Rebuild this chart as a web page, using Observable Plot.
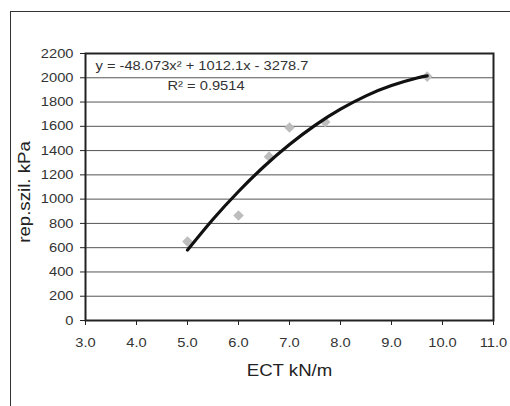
<!DOCTYPE html>
<html><head><meta charset="utf-8">
<script src="https://cdn.jsdelivr.net/npm/d3@7"></script>
<script src="https://cdn.jsdelivr.net/npm/@observablehq/plot@0.6"></script>
<style>
html,body{margin:0;padding:0;background:#fff;overflow:hidden;width:510px;height:406px;}
#outer{position:absolute;left:10px;top:11px;width:600px;height:600px;border-top:1px solid #333;border-left:1px solid #333;}
#chart{position:absolute;left:0;top:0;}
</style></head><body>
<div id="outer"></div><div id="chart"></div>
<script>
// measured points (ECT kN/m, rep.szil. kPa)
const ectValues = [5.0, 6.0, 6.6, 7.0, 7.7, 9.7];
const pressureValues = [650, 865, 1350, 1590, 1635, 2010];
// polynomial trendline
const trendX = [5.0, 5.5, 6.0, 6.5, 7.0, 7.5, 8.0, 8.5, 9.0, 9.5, 9.7];
const trendY = [580, 834, 1063, 1269, 1450, 1608, 1741, 1851, 1936, 1998, 2015];
const xTicks = [3, 4, 5, 6, 7, 8, 9, 10, 11];
const yTicks = [0, 200, 400, 600, 800, 1000, 1200, 1400, 1600, 1800, 2000, 2200];
const gridValues = [200, 400, 600, 800, 1000, 1200, 1400, 1600, 1800, 2000];
const equationText = "y = -48.073x² + 1012.1x - 3278.7";
const r2Text = "R² = 0.9514";
const xLabel = "ECT kN/m";
const yLabel = "rep.szil. kPa";

const points = ectValues.map((x, i) => ({x, y: pressureValues[i]}));
const trend = trendX.map((x, i) => ({x, y: trendY[i]}));

const chart = Plot.plot({
  width: 510,
  height: 406,
  marginLeft: 85,
  marginRight: 17,
  marginTop: 53,
  marginBottom: 86,
  style: {fontFamily: "'Liberation Sans', Arial, sans-serif", fontSize: "13px", background: "transparent", overflow: "visible"},
  x: {domain: [3, 11]},
  y: {domain: [0, 2200]},
  marks: [
    Plot.ruleY(gridValues, {stroke: "#555", strokeWidth: 1}),
    Plot.axisX(xTicks, {tickSize: 5, tickPadding: 12, tickFormat: d => d.toFixed(1), stroke: "#222", fill: "#333", label: null}),
    Plot.axisY(yTicks, {tickSize: 5, tickPadding: 7, tickFormat: d => String(d), stroke: "#222", fill: "#333", label: null}),
    Plot.dot(points, {x: "x", y: "y", symbol: "diamond2", r: 4.8, fill: "#bdbdbd", stroke: "none"}),
    Plot.line(trend, {x: "x", y: "y", curve: "natural", stroke: "#111", strokeWidth: 3.2}),
    Plot.frame({stroke: "#222", strokeWidth: 2}),
    Plot.text([equationText], {frameAnchor: "top-left", dx: 10, dy: 12, textAnchor: "start", lineAnchor: "middle", fontSize: 13, fill: "#333"}),
    Plot.text([r2Text], {frameAnchor: "top-left", dx: 82, dy: 32, textAnchor: "start", lineAnchor: "middle", fontSize: 13, fill: "#333"}),
    Plot.text([xLabel], {frameAnchor: "bottom", dy: 50, textAnchor: "middle", lineAnchor: "middle", fontSize: 16.5, fill: "#222"}),
    Plot.text([yLabel], {frameAnchor: "left", dx: -61, dy: 5, rotate: -90, textAnchor: "middle", lineAnchor: "middle", fontSize: 16.5, fill: "#222"})
  ]
});
// Excel-like horizontally widened glyphs: stretch each text about its anchor
d3.select(chart).selectAll("text").each(function() {
  let tx = 0, ty = 0;
  const xa = this.getAttribute("x"), ya = this.getAttribute("y");
  if (xa !== null && !isNaN(+xa)) { tx = +xa; this.removeAttribute("x"); }
  if (ya !== null && !isNaN(+ya)) { ty = +ya; this.removeAttribute("y"); }
  const t = this.getAttribute("transform") || "";
  this.setAttribute("transform", `${t} translate(${tx},${ty}) scale(1.13,1)`);
});
document.getElementById("chart").appendChild(chart);
</script>
</body></html>
